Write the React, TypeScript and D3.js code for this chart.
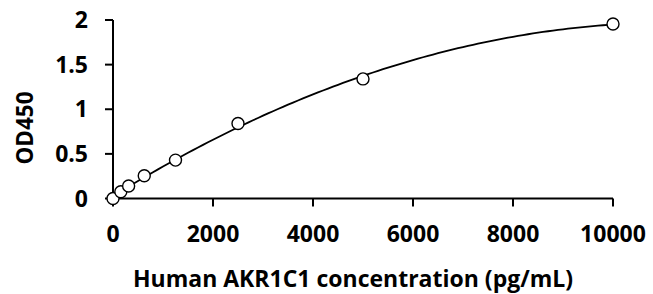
import React from 'react';
import * as d3 from 'd3';

const concentrations = [0, 156.25, 312.5, 625, 1250, 2500, 5000, 10000];
const od450 = [0.0, 0.075, 0.14, 0.255, 0.43, 0.84, 1.34, 1.955];
const xTicks = [0, 2000, 4000, 6000, 8000, 10000];
const yTicks = [0, 0.5, 1, 1.5, 2];
const yTickLabels = ['0', '0.5', '1', '1.5', '2'];
const xTitle = 'Human AKR1C1 concentration (pg/mL)';
const yTitle = 'OD450';

const W = 653;
const H = 294;
const FONT = '"Open Sans", sans-serif';

// least-squares 2nd order polynomial trendline (y = a + b x + c x^2)
function quadFit(xs: number[], ys: number[]) {
  const s = (f: (xv: number, yv: number) => number) =>
    d3.sum(xs, (xv, i) => f(xv, ys[i]));
  const n = xs.length;
  const sx = s((v) => v), sx2 = s((v) => v * v), sx3 = s((v) => v ** 3), sx4 = s((v) => v ** 4);
  const sy = s((_, w) => w), sxy = s((v, w) => v * w), sx2y = s((v, w) => v * v * w);
  const M = [
    [n, sx, sx2, sy],
    [sx, sx2, sx3, sxy],
    [sx2, sx3, sx4, sx2y],
  ];
  // gaussian elimination
  for (let i = 0; i < 3; i++) {
    for (let k = i + 1; k < 3; k++) {
      const f = M[k][i] / M[i][i];
      for (let j = i; j < 4; j++) M[k][j] -= f * M[i][j];
    }
  }
  const r = [0, 0, 0];
  for (let i = 2; i >= 0; i--) {
    let v = M[i][3];
    for (let j = i + 1; j < 3; j++) v -= M[i][j] * r[j];
    r[i] = v / M[i][i];
  }
  return (xv: number) => r[0] + r[1] * xv + r[2] * xv * xv;
}

export default function App() {
  const x = d3.scaleLinear().domain([0, 10000]).range([113, 613]);
  const y = d3.scaleLinear().domain([0, 2]).range([198.5, 20]);

  const pts = concentrations.map((c, i) => [c, od450[i]] as [number, number]);
  const fit = quadFit(concentrations, od450);
  const fitPts = x.ticks(100).map((c) => [c, fit(c)] as [number, number]);
  const line = d3
    .line<[number, number]>()
    .x((d) => x(d[0]))
    .y((d) => y(d[1]));

  const x0 = x(0);
  const y0 = y(0);

  return (
    <svg
      width={W}
      height={H}
      style={{ position: 'absolute', left: 0, top: 0, background: '#fff' }}
      fontFamily={FONT}
      fontWeight="bold"
    >
      {/* y axis */}
      <line x1={x0} x2={x0} y1={y(2)} y2={y0} stroke="#000" strokeWidth={2} />
      {yTicks.map((t, i) => (
        <g key={'y' + t}>
          <line x1={x0 - 8} x2={x0} y1={y(t)} y2={y(t)} stroke="#000" strokeWidth={2} />
          <text x={88} y={y(t)} dy="0.35em" textAnchor="end" fontSize={23} fill="#000">
            {yTickLabels[i]}
          </text>
        </g>
      ))}

      {/* x axis */}
      <line x1={x0} x2={x(10000)} y1={y0} y2={y0} stroke="#000" strokeWidth={2} />
      {xTicks.map((t) => (
        <g key={'x' + t}>
          <line x1={x(t)} x2={x(t)} y1={y0} y2={y0 + 8} stroke="#000" strokeWidth={2} />
          <text x={x(t)} y={234} dy="0.35em" textAnchor="middle" fontSize={23} fill="#000">
            {d3.format('d')(t)}
          </text>
        </g>
      ))}

      {/* trendline */}
      <path d={line(fitPts) || ''} fill="none" stroke="#000" strokeWidth={1.8} />

      {/* points */}
      {pts.map((d, i) => (
        <circle
          key={'p' + i}
          cx={x(d[0])}
          cy={y(d[1])}
          r={6}
          fill="#fff"
          stroke="#000"
          strokeWidth={1.4}
        />
      ))}

      {/* titles */}
      <text x={353} y={287} textAnchor="middle" fontSize={23} fill="#000">
        {xTitle}
      </text>
      <text
        transform={`translate(33,128) rotate(-90)`}
        textAnchor="middle"
        fontSize={22.5}
        fill="#000"
      >
        {yTitle}
      </text>
    </svg>
  );
}
